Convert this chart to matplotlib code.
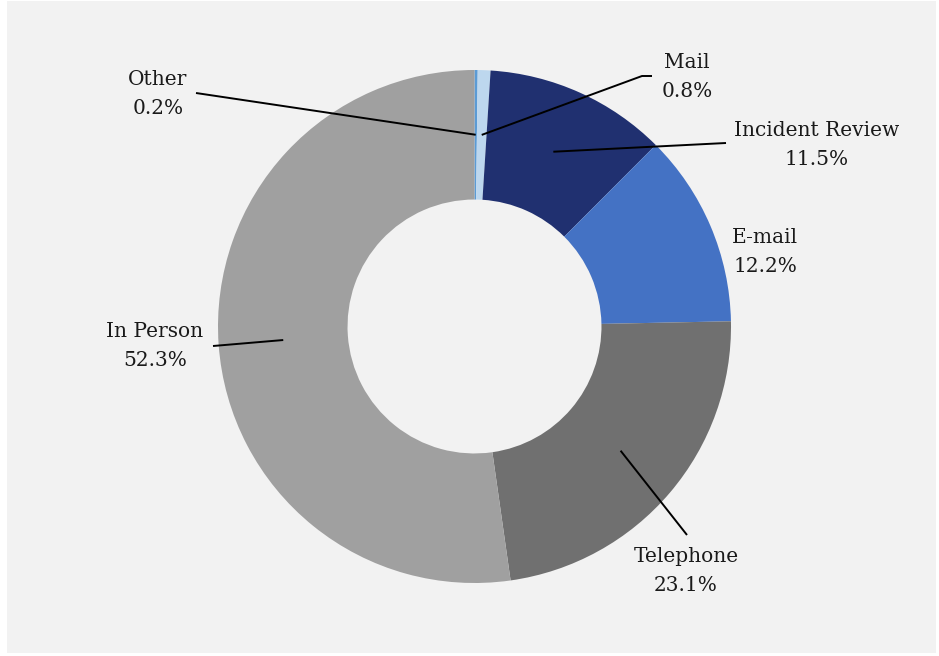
import numpy as np
import matplotlib
matplotlib.use("Agg")
import matplotlib.pyplot as plt
from matplotlib.patches import Rectangle

# contact channel shares (clockwise from 12 o'clock)
labels = ["Other", "Mail", "Incident Review", "E-mail", "Telephone", "In Person"]
shares = [0.2, 0.8, 11.5, 12.2, 23.1, 52.3]
colors = ["#5b9bd5", "#bdd7ee", "#203070", "#4472c4", "#707070", "#a0a0a0"]

W, H = 939, 656
fig = plt.figure(figsize=(W / 100, H / 100), dpi=100)
fig.patch.set_facecolor("white")
ax = fig.add_axes([0, 0, 1, 1])

cx, cy = 474.5, H - 326.5
R = 256.5
ring = 0.505
wedges, _ = ax.pie(shares, colors=colors, startangle=90, counterclock=False,
                   center=(cx, cy), radius=R, frame=True,
                   wedgeprops=dict(width=R * ring, linewidth=0))
ax.set_xlim(0, W)
ax.set_ylim(0, H)
ax.set_aspect("equal")
ax.axis("off")

# grey panel behind the chart
ax.add_patch(Rectangle((7, 3), 929, 652, facecolor="#f2f2f2", edgecolor="none", zorder=0))

# label boxes (image coords, y downward) and where the leader leaves them
label_pos = {
    "Other": (158, 94),
    "Mail": (687, 77),
    "Incident Review": (817, 145),
    "E-mail": (765, 252),
    "Telephone": (686, 571),
    "In Person": (155, 346),
}
leader_start = {
    "Other": [(196, 93)],
    "Mail": [(652, 76), (642, 76)],
    "Incident Review": [(726, 143)],
    "Telephone": [(687, 535)],
    "In Person": [(213, 346)],
}

font = dict(family="DejaVu Serif", size=14.5, color="#1a1a1a")
r_mid = R * (1 - ring / 2)
for w, name, v in zip(wedges, labels, shares):
    lx, ly = label_pos[name]
    ax.text(lx, H - ly, f"{name}\n{v}%", ha="center", va="center",
            linespacing=1.65, **font)
    if name in leader_start:
        ang = np.deg2rad((w.theta1 + w.theta2) / 2)
        px = cx + r_mid * np.cos(ang)
        py = cy + r_mid * np.sin(ang)
        pts = leader_start[name]
        xs = [p[0] for p in pts] + [px]
        ys = [H - p[1] for p in pts] + [py]
        ax.plot(xs, ys, color="black", linewidth=1.4, solid_capstyle="butt", zorder=5)

fig.savefig("out.png", dpi=100, facecolor=fig.get_facecolor())
